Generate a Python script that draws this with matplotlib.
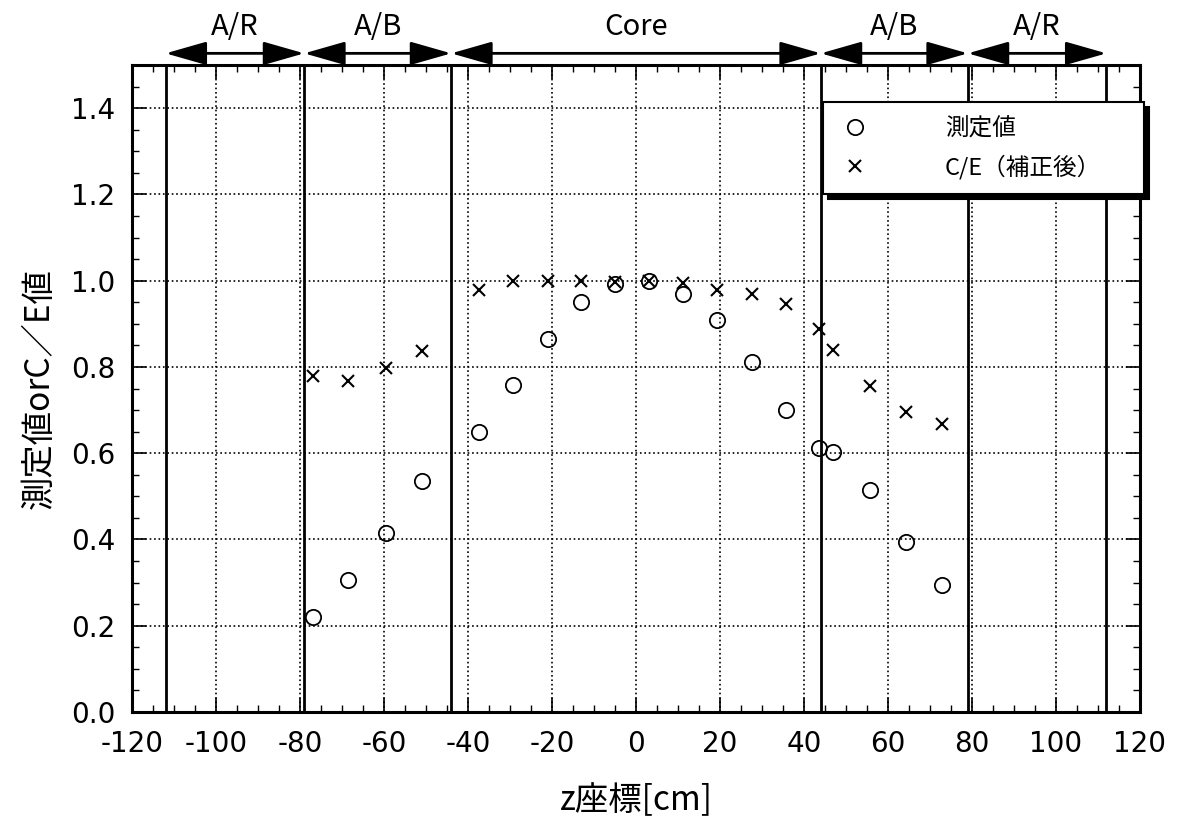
import matplotlib
matplotlib.use("Agg")
import matplotlib.pyplot as plt
from matplotlib.ticker import MultipleLocator

plt.rcParams['font.family'] = ['Noto Sans CJK JP', 'DejaVu Sans']
plt.rcParams['axes.unicode_minus'] = False

# z positions [cm]
z = [-77, -68.5, -59.5, -51, -37.3, -29.3, -21, -13, -5, 3.1, 11.2,
     19.2, 27.7, 35.8, 43.6, 46.8, 55.6, 64.3, 72.8]
measured = [0.221, 0.305, 0.416, 0.535, 0.649, 0.758, 0.864, 0.950, 0.992,
            1.0, 0.968, 0.908, 0.811, 0.701, 0.613, 0.602, 0.515, 0.394, 0.294]
ce = [0.779, 0.767, 0.798, 0.837, 0.978, 1.0, 1.0, 1.0, 0.998, 1.0, 0.994,
      0.978, 0.968, 0.947, 0.888, 0.84, 0.756, 0.696, 0.667]

# region boundaries and labels
bounds = [-112, -79, -44, 44, 79, 112]
regions = ["A/R", "A/B", "Core", "A/B", "A/R"]

fig = plt.figure(figsize=(12.01, 8.30), dpi=100)
ax = fig.add_axes([132 / 1201, 1 - 712 / 830, 1008 / 1201, 647 / 830])

ax.plot(z, measured, linestyle='none', marker='o', markersize=11,
        markerfacecolor='none', markeredgecolor='k', markeredgewidth=1.3,
        label='測定値')
ax.plot(z, ce, linestyle='none', marker='x', markersize=9,
        color='k', markeredgewidth=1.5, label='C/E（補正後）')

for b in bounds:
    ax.axvline(b, color='k', lw=2)

ax.set_xlim(-120, 120)
ax.set_ylim(0, 1.5)
ax.xaxis.set_major_locator(MultipleLocator(20))
ax.xaxis.set_minor_locator(MultipleLocator(5))
ax.yaxis.set_minor_locator(MultipleLocator(0.05))
ax.yaxis.set_major_formatter(lambda v, p: f"{v:.1f}")
ax.set_yticks([0, 0.2, 0.4, 0.6, 0.8, 1.0, 1.2, 1.4])
ax.tick_params(which='both', direction='in', top=True, right=True,
               labelsize=20, labelfontfamily='DejaVu Sans')
ax.tick_params(axis='x', pad=13)
ax.tick_params(axis='y', pad=12)
ax.tick_params(which='major', length=10, width=1.2)
ax.tick_params(which='minor', length=5, width=1)
ax.grid(True, which='major', linestyle=':', color='k', lw=1.2)
for s in ax.spines.values():
    s.set_linewidth(2.2)

ax.set_xlabel('z座標[cm]', fontsize=24, labelpad=18)
ax.set_ylabel('測定値orC／E値', fontsize=24, labelpad=10)

# region arrows above the plot
for i, name in enumerate(regions):
    x0, x1 = bounds[i], bounds[i + 1]
    ax.annotate('', xy=(x0, 1.018), xytext=(x1, 1.018),
                xycoords=('data', 'axes fraction'),
                textcoords=('data', 'axes fraction'),
                arrowprops=dict(arrowstyle='<|-|>,head_length=1.4,head_width=0.4',
                                color='k', lw=2, mutation_scale=18,
                                shrinkA=0, shrinkB=0))
    ax.text((x0 + x1) / 2, 1.058, name, transform=ax.get_xaxis_transform(),
            ha='center', va='center', fontsize=21)

leg = ax.legend(loc='upper left', bbox_to_anchor=(0.686, 0.943, 0.318, 0.0),
                mode='expand', fontsize=17, frameon=True, fancybox=False,
                edgecolor='k', framealpha=1, borderpad=0.65, labelspacing=0.6,
                handletextpad=3.1, handlelength=1.4, borderaxespad=0,
                shadow={'color': 'k', 'alpha': 1, 'ox': 3.5, 'oy': -3.5})
leg.get_frame().set_linewidth(1.5)

fig.savefig('out.png', dpi=100)
